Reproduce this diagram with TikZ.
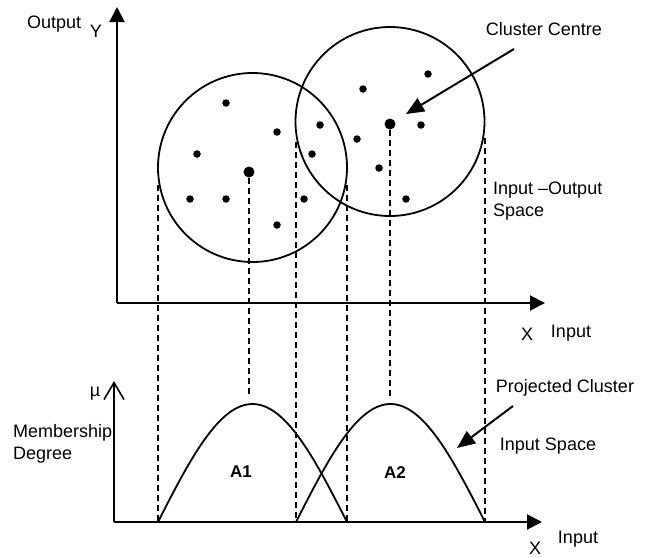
\documentclass[tikz,border=0pt]{standalone}
\usepackage{fontspec}
\setmainfont{Liberation Sans}
\usetikzlibrary{arrows.meta, positioning}

\begin{document}
\begin{tikzpicture}[
    x=1pt, y=-1pt,
    axis/.style={line width=2pt, -{Triangle[length=15pt,width=15pt]}},
    muaxis/.style={line width=2pt, -{Straight Barb[length=17pt,width=20pt,line width=1.6pt]}},
    cluster/.style={draw, circle, line width=1.8pt, inner sep=0, minimum size=189pt},
    dot/.style={circle, fill, inner sep=0, minimum size=7.5pt},
    centre/.style={circle, fill, inner sep=0, minimum size=11pt},
    proj/.style={dash pattern=on 6pt off 4pt, line width=1.7pt},
    member/.style={line width=1.8pt},
    pointer/.style={line width=2pt, -{Triangle[length=18pt,width=15pt]}},
    txt/.style={inner sep=0, font=\fontsize{18}{22}\selectfont},
    txtb/.style={inner sep=0, font=\fontsize{17}{20}\selectfont\bfseries}
  ]
    \useasboundingbox (0,0) rectangle (648,557);

    % input-output space
    \coordinate (o1) at (117,303);
    \coordinate (ytop) at (117,7);
    \coordinate (xend1) at (545,303);
    \draw[axis] (o1) -- (ytop);
    \draw[axis] (o1) -- (xend1);

    \node[cluster] (k1) at (252.5,167.5) {};
    \node[cluster] (k2) at (390,121.5) {};
    \foreach \px/\py [count=\i] in {226/103, 277/132, 197/154, 190/199, 226/199, 277/225,
        312/154, 320/125, 304/199, 363/89, 428/74, 357/139, 421/125, 379/168, 406/199}
      \node[dot] (p\i) at (\px,\py) {};
    \node[centre] (c1) at (249,172) {};
    \node[centre] (c2) at (390,124) {};

    % input space
    \coordinate (o2) at (114,522);
    \coordinate (mutop) at (114,381);
    \coordinate (xend2) at (542,522);
    \draw[muaxis] (o2) -- (mutop);
    \draw[axis] (o2) -- (xend2);

    \draw[member] plot[domain=158:347, samples=80] (\x,{522-118*cos(90*(\x-252.5)/94.5)});
    \draw[member] plot[domain=296:485, samples=80] (\x,{522-118*cos(90*(\x-390.5)/94.5)});

    % projections
    \coordinate (e1) at (158,185);  \coordinate (b1) at (158,522);
    \coordinate (e2) at (347,185);  \coordinate (b2) at (347,522);
    \coordinate (e3) at (296,142);  \coordinate (b3) at (296,522);
    \coordinate (e4) at (485,138);  \coordinate (b4) at (485,522);
    \coordinate (m1) at (249,397);
    \coordinate (m2) at (390,397);
    \foreach \i in {1,...,4}
      \draw[proj] (e\i) -- (b\i);
    \draw[proj] (c1.south) -- (m1);
    \draw[proj] (c2.south) -- (m2);

    % labels
    \node[txt, anchor=west] (outlbl) at (27,24) {Output};
    \node[txt] (ylbl) at (96,31) {Y};
    \node[txt] (cclbl) at (544,29) {Cluster Centre};
    \node[txt, anchor=north west, align=left] (iolbl) at (493,182) {Input –Output\\Space};
    \node[txt] (xlbl1) at (527,334) {X};
    \node[txt] (inlbl1) at (571,333) {Input};
    \node[txt] (mulbl) at (95,394) {µ};
    \node[txt, anchor=north west, align=left] (mdlbl) at (13,424) {Membership\\Degree};
    \node[txtb] (a1lbl) at (241,472) {A1};
    \node[txtb] (a2lbl) at (395,473) {A2};
    \node[txt] (pclbl) at (565,388) {Projected Cluster};
    \node[txt] (islbl) at (548,446) {Input Space};
    \node[txt] (xlbl2) at (535,548) {X};
    \node[txt] (inlbl2) at (578,539) {Input};

    \coordinate (cctail) at (514,49);
    \coordinate (cctip) at (406,114);
    \draw[pointer] (cctail) -- (cctip);
    \coordinate (pctail) at (513,406);
    \coordinate (pctip) at (457,448);
    \draw[pointer] (pctail) -- (pctip);
\end{tikzpicture}
\end{document}
